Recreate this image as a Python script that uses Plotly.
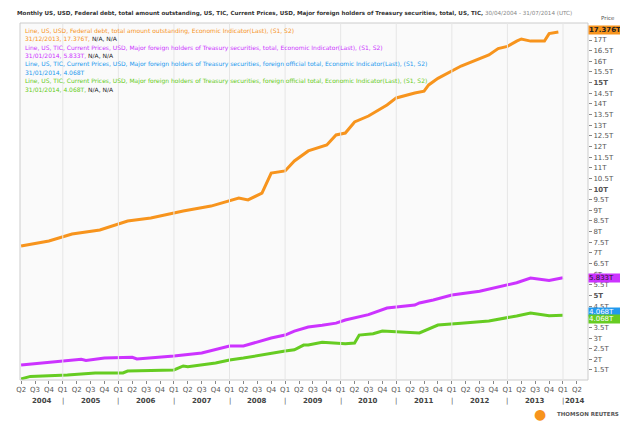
import plotly.graph_objects as go

debt_dates = ["2004-04","2004-10","2005-03","2005-09","2006-03","2006-08","2007-03","2007-09","2008-03","2008-05","2008-08","2008-10","2009-01","2009-03","2009-06","2009-10","2009-12","2010-02","2010-04","2010-07","2010-11","2011-01","2011-05","2011-07","2011-08","2011-10","2012-03","2012-09","2012-11","2013-01","2013-03","2013-04","2013-06","2013-09","2013-10","2013-12"]
debt_vals = [7.32,7.56,7.89,8.08,8.50,8.64,8.97,9.20,9.58,9.49,9.81,10.75,10.85,11.32,11.79,12.07,12.54,12.63,13.15,13.43,13.95,14.28,14.51,14.60,14.89,15.20,15.78,16.30,16.60,16.70,16.95,17.05,16.95,16.95,17.30,17.376]

tot_dates = ["2004-04","2005-01","2005-05","2005-06","2005-10","2006-04","2006-05","2007-01","2007-07","2008-01","2008-04","2008-10","2009-01","2009-03","2009-06","2009-09","2009-12","2010-02","2010-06","2010-07","2010-11","2011-05","2011-06","2011-09","2012-01","2012-07","2013-03","2013-06","2013-10","2014-01"]
tot_vals = [1.74,1.92,2.00,1.95,2.06,2.10,2.02,2.16,2.30,2.63,2.63,3.00,3.14,3.33,3.52,3.60,3.70,3.85,4.04,4.10,4.41,4.55,4.65,4.79,5.02,5.20,5.60,5.82,5.70,5.833]

off_dates = ["2004-04","2004-06","2005-02","2005-08","2006-02","2006-03","2007-01","2007-03","2007-04","2007-10","2008-01","2008-04","2009-01","2009-03","2009-05","2009-06","2009-09","2010-02","2010-04","2010-05","2010-08","2010-10","2011-06","2011-07","2011-10","2012-03","2012-09","2013-03","2013-06","2013-10","2014-01"]
off_vals = [1.08,1.20,1.26,1.36,1.36,1.45,1.50,1.69,1.65,1.83,1.97,2.06,2.39,2.45,2.67,2.67,2.80,2.73,2.77,3.14,3.20,3.33,3.24,3.33,3.61,3.70,3.80,4.04,4.18,4.05,4.068]

def dec(d):
    y, m = d.split("-")
    return int(y) + (int(m) - 1) / 12

fig = go.Figure()
fig.add_trace(go.Scatter(x=[dec(d) for d in debt_dates], y=debt_vals, mode="lines",
                         line=dict(color="#f7941d", width=3)))
fig.add_trace(go.Scatter(x=[dec(d) for d in tot_dates], y=tot_vals, mode="lines",
                         line=dict(color="#cc33ff", width=3)))
fig.add_trace(go.Scatter(x=[dec(d) for d in off_dates], y=off_vals, mode="lines",
                         line=dict(color="#66cc22", width=3)))

yvals = [1.5 + 0.5 * i for i in range(32)]
ytext = []
for v in yvals:
    s = ("%g" % v) + "T"
    if v in (5, 10, 15):
        s = "<b>" + s + "</b>"
    ytext.append(s)

xvals, xtext = [], []
for y in range(2004, 2015):
    for q in range(4):
        v = y + q * 0.25
        if 2004.24 <= v <= 2014.5:
            xvals.append(v)
            xtext.append("Q%d" % (q + 1))

fig.update_layout(
    width=628, height=422, showlegend=False,
    margin=dict(l=8, r=48, t=15, b=50),
    paper_bgcolor="white", plot_bgcolor="#fafafa",
    font=dict(family="DejaVu Sans", size=7, color="#555"),
    xaxis=dict(range=[2004.23, 2014.45], tickvals=xvals, ticktext=xtext,
               showgrid=False, zeroline=False, ticks="outside", ticklen=3,
               tickcolor="#888", tickfont=dict(size=7, color="#555"), showline=False),
    yaxis=dict(range=[1.03, 17.8], side="right", tickvals=yvals, ticktext=ytext,
               showgrid=False, zeroline=False, ticks="outside", ticklen=3,
               tickcolor="#888", tickfont=dict(size=7, color="#555")),
    shapes=[dict(type="rect", xref="paper", yref="paper", x0=0, x1=1.0, y0=0, y1=1,
                 line=dict(color="#cccccc", width=1))]
    + [dict(type="line", x0=y, x1=y, yref="paper", y0=0, y1=1,
            line=dict(color="#e6e6e6", width=1)) for y in range(2005, 2015)],
)

ann = []
ann.append(dict(x=-0.008, y=1.027, xref="paper", yref="paper", xanchor="left", yanchor="middle",
                showarrow=False,
                text="<b>Monthly US, USD, Federal debt, total amount outstanding, US, TIC, Current Prices, USD, Major foreign holders of Treasury securities, total, US, TIC,</b> <span style='color:#888'>30/04/2004 - 31/07/2014 (UTC)</span>",
                font=dict(size=5.6, color="#333")))
legend_lines = [
    ("#f7941d", "Line, US, USD, Federal debt, total amount outstanding, Economic Indicator(Last), (S1, S2)"),
    ("#f7941d", "31/12/2013, 17.376T, <span style='color:#222'>N/A, N/A</span>"),
    ("#cc33ff", "Line, US, TIC, Current Prices, USD, Major foreign holders of Treasury securities, total, Economic Indicator(Last), (S1, S2)"),
    ("#cc33ff", "31/01/2014, 5.833T, <span style='color:#222'>N/A, N/A</span>"),
    ("#2299ee", "Line, US, TIC, Current Prices, USD, Major foreign holders of Treasury securities, foreign official total, Economic Indicator(Last), (S1, S2)"),
    ("#2299ee", "31/01/2014, 4.068T"),
    ("#66cc22", "Line, US, TIC, Current Prices, USD, Major foreign holders of Treasury securities, foreign official total, Economic Indicator(Last), (S1, S2)"),
    ("#66cc22", "31/01/2014, 4.068T, <span style='color:#222'>N/A, N/A</span>"),
]
for i, (c, t) in enumerate(legend_lines):
    ann.append(dict(x=0.005, y=0.995 - i * 0.0235, xref="paper", yref="paper", xanchor="left",
                    yanchor="top", showarrow=False, text=t, font=dict(size=6, color=c)))

for val, bg, txt, fc in [(17.45, "#f7941d", "<b>17.376T</b>", "#222"),
                          (5.833, "#cc33ff", "5.833T", "#222"),
                          (4.068 + 0.17, "#2299ee", "4.068T", "white"),
                          (4.068 - 0.17, "#66cc22", "4.068T", "white")]:
    ann.append(dict(x=1.0, y=val, xref="paper", yref="y", xanchor="left", showarrow=False,
                    text=txt, bgcolor=bg, font=dict(size=7, color=fc), width=36, align="left",
                    borderpad=0))
ann.append(dict(x=1.02, y=17.78, xref="paper", yref="y", xanchor="left", yanchor="bottom",
                showarrow=False, text="Price", font=dict(size=5.5, color="#555")))
ann.append(dict(x=1.012, y=1.0, xref="paper", yref="y", xanchor="left", yanchor="middle",
                showarrow=False,
                text="Auto", bordercolor="#888", borderwidth=1, bgcolor="#eee",
                font=dict(size=7, color="#333")))
for y in range(2004, 2015):
    cx = max(y + 0.5, 2004.62) if y < 2014 else 2014.22
    ann.append(dict(x=cx, y=-0.042, xref="x", yref="paper", yanchor="top", showarrow=False,
                    text="<b>%d</b>" % y, font=dict(size=7, color="#444")))
    if y >= 2005:
        ann.append(dict(x=y, y=-0.042, xref="x", yref="paper", yanchor="top", showarrow=False,
                        text="|", font=dict(size=7, color="#555")))
ann.append(dict(x=1.058, y=-0.095, xref="paper", yref="paper", xanchor="right", yanchor="middle",
                showarrow=False, text="<b>THOMSON REUTERS</b>", font=dict(size=5.5, color="#555")))
ann.append(dict(x=0.93, y=-0.095, xref="paper", yref="paper", xanchor="right", yanchor="middle",
                showarrow=False, text="●", font=dict(size=14, color="#f7941d")))
fig.update_layout(annotations=ann)
fig.write_html("out.html")
